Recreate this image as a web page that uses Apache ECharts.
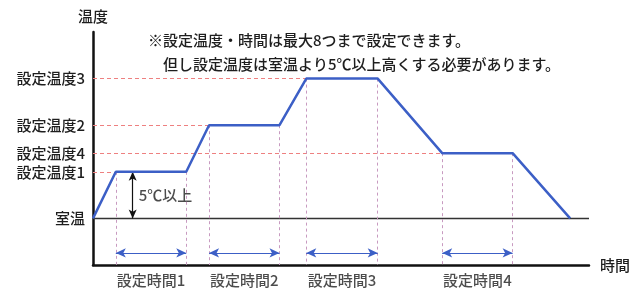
<!DOCTYPE html>
<html>
<head>
<meta charset="utf-8">
<script src="https://cdn.jsdelivr.net/npm/echarts@6/dist/echarts.min.js"></script>
<style>
  html, body { margin: 0; padding: 0; background: #fff; }
  #chart { width: 633px; height: 290px; }
</style>
</head>
<body>
<div id="chart"></div>
<script>
// 温度プロファイル（時間は任意単位、温度は℃相当）
const timeKnots = [0, 23, 94, 117, 188, 215, 287, 352, 423, 481]
const tempKnots = [20, 25, 25, 30, 30, 35, 35, 27, 27, 20]
const roomTemp = 20
const timeMax = 500
const tempMin = 15
const tempMax = 40

// 縦軸ラベル
const levelValues = [20, 25, 27, 30, 35]
const levelNames = ['室温', '設定温度1', '設定温度4', '設定温度2', '設定温度3']
// 各設定温度に到達する時刻（破線の終点）
const levelReach = [null, 23, 352, 117, 215]

// 保持区間
const holdStart = [23, 117, 215, 352]
const holdEnd = [94, 188, 287, 423]
const holdTemps = [25, 30, 35, 27]
const holdLabels = ['設定時間1', '設定時間2', '設定時間3', '設定時間4']
const arrowRowTemp = 16.3

// 5℃以上の矢印
const diffTime = 40
const diffLabel = '5℃以上'
const diffLabelTemp = 22.5

const notes = [
  '※設定温度・時間は最大8つまで設定できます。',
  '但し設定温度は室温より5℃以上高くする必要があります。'
]

const FONT = '"Noto Sans CJK JP", "Noto Sans", sans-serif'
const BLUE = '#3c5fc6'
const TEXT = '#1e1e1e'
const WEIGHT = 500

let ins = echarts.init(document.getElementById('chart'), null, { renderer: 'canvas' })

let profile = timeKnots.map((t, i) => [t, tempKnots[i]])

let hGuides = []
levelValues.forEach((v, i) => {
  if (levelReach[i] === null) return
  hGuides.push([{ coord: [0, v] }, { coord: [levelReach[i], v] }])
})

let vGuides = []
holdStart.forEach((s, i) => {
  vGuides.push([{ coord: [s, holdTemps[i]] }, { coord: [s, tempMin] }])
  vGuides.push([{ coord: [holdEnd[i], holdTemps[i]] }, { coord: [holdEnd[i], tempMin] }])
})

let spans = holdStart.map((s, i) => [{ coord: [s, arrowRowTemp] }, { coord: [holdEnd[i], arrowRowTemp] }])

let spanLabels = holdStart.map((s, i) => ({ name: holdLabels[i], value: [(s + holdEnd[i]) / 2, tempMin] }))

ins.setOption({
  backgroundColor: '#fff',
  animation: false,
  textStyle: { fontFamily: FONT },
  title: [
    { text: notes[0], left: 148, top: 33, padding: 0,
      textStyle: { fontSize: 15, fontWeight: WEIGHT, color: TEXT, fontFamily: FONT } },
    { text: notes[1], left: 163, top: 57, padding: 0,
      textStyle: { fontSize: 15, fontWeight: WEIGHT, color: TEXT, fontFamily: FONT } }
  ],
  grid: { left: 93, right: 40, top: 32, bottom: 25 },
  xAxis: {
    type: 'value',
    min: 0,
    max: timeMax,
    name: '時間',
    nameLocation: 'end',
    nameGap: 11,
    nameTextStyle: { fontSize: 15, fontWeight: WEIGHT, color: TEXT, fontFamily: FONT },
    axisLine: { lineStyle: { color: '#111', width: 2.5 } },
    axisTick: { show: false },
    axisLabel: { show: false },
    splitLine: { show: false }
  },
  yAxis: {
    type: 'value',
    min: tempMin,
    max: tempMax,
    name: '温度',
    nameLocation: 'end',
    nameGap: 8,
    nameTextStyle: { fontSize: 15, fontWeight: WEIGHT, color: TEXT, fontFamily: FONT },
    axisLine: { show: true, lineStyle: { color: '#111', width: 2.5 } },
    axisTick: { show: false },
    splitLine: { show: false },
    axisLabel: {
      customValues: levelValues,
      margin: 8,
      fontSize: 15,
      fontWeight: WEIGHT,
      color: TEXT,
      fontFamily: FONT,
      formatter: v => {
        let i = levelValues.indexOf(v)
        return i >= 0 ? levelNames[i] : ''
      }
    }
  },
  series: [
    {
      // 室温ライン
      type: 'line',
      data: [[0, roomTemp], [timeMax, roomTemp]],
      symbol: 'none',
      silent: true,
      lineStyle: { color: '#333', width: 1.5 },
      z: 2
    },
    {
      // ガイド線
      type: 'line',
      data: [],
      silent: true,
      markLine: {
        symbol: 'none',
        silent: true,
        label: { show: false },
        lineStyle: { color: '#ee8080', type: [4, 3], width: 1 },
        data: hGuides
      }
    },
    {
      type: 'line',
      data: [],
      silent: true,
      markLine: {
        symbol: 'none',
        silent: true,
        label: { show: false },
        lineStyle: { color: '#c89ac0', type: [3, 3], width: 1 },
        data: vGuides
      }
    },
    {
      // 設定時間の矢印
      type: 'line',
      data: [],
      silent: true,
      markLine: {
        symbol: ['arrow', 'arrow'],
        symbolSize: [7, 10],
        silent: true,
        label: { show: false },
        lineStyle: { color: BLUE, type: 'solid', width: 1 },
        data: spans
      }
    },
    {
      // 5℃以上
      type: 'line',
      data: [],
      silent: true,
      markLine: {
        symbol: ['arrow', 'arrow'],
        symbolSize: [6, 9],
        silent: true,
        label: { show: false },
        lineStyle: { color: '#111', type: 'solid', width: 1.2 },
        data: [[{ coord: [diffTime, roomTemp] }, { coord: [diffTime, holdTemps[0]] }]]
      }
    },
    {
      type: 'scatter',
      symbolSize: 0,
      silent: true,
      data: [{ name: diffLabel, value: [diffTime, diffLabelTemp] }],
      label: {
        show: true,
        position: 'right',
        distance: 6,
        formatter: '{b}',
        fontSize: 15,
        fontWeight: WEIGHT,
        color: TEXT,
        fontFamily: FONT
      }
    },
    {
      type: 'scatter',
      symbolSize: 0,
      silent: true,
      data: spanLabels,
      label: {
        show: true,
        position: 'bottom',
        distance: 8,
        formatter: '{b}',
        fontSize: 15,
        fontWeight: WEIGHT,
        color: TEXT,
        fontFamily: FONT
      }
    },
    {
      // 温度プロファイル
      type: 'line',
      data: profile,
      symbol: 'none',
      silent: true,
      lineStyle: { color: BLUE, width: 2.5 },
      z: 5
    }
  ]
})
</script>
</body>
</html>
